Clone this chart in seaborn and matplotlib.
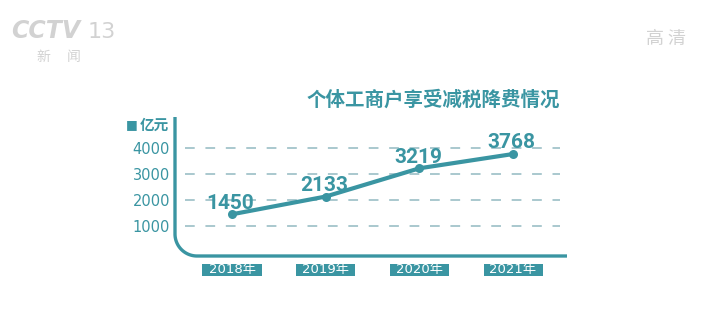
import matplotlib
matplotlib.use("Agg")
import matplotlib.pyplot as plt
from matplotlib.patches import Rectangle
import seaborn as sns
import numpy as np
import pandas as pd

years = ["2018", "2019", "2020", "2021"]
tick_labels = ["2018年", "2019年", "2020年", "2021年"]
values = [1450, 2133, 3219, 3768]
y_ticks = [1000, 2000, 3000, 4000]
title = "个体工商户享受减税降费情况"
unit = "亿元"

TEAL = "#3a95a2"
GRID = "#a9c8ce"
GRAY = "#d2d2d2"

sns.set_theme(style="white")
plt.rcParams['font.family'] = ['Noto Sans CJK SC', 'DejaVu Sans']

W, H = 715, 331
fig = plt.figure(figsize=(W / 100, H / 100), dpi=100)
fig.patch.set_facecolor("white")

# axes box in pixels (from top-left)
L, R, T, B = 175, 567, 117, 256
ax = fig.add_axes([L / W, 1 - B / H, (R - L) / W, (B - T) / H])
ax.set_facecolor("none")

df = pd.DataFrame({"idx": np.arange(len(years)), "value": values})
sns.lineplot(data=df, x="idx", y="value", ax=ax, color=TEAL, linewidth=3.0,
             marker="o", markersize=6.5, markeredgewidth=0, zorder=5)

ax.set_xlim(-0.6085, 3.576)
ax.set_ylim(-154, 5192)

# dashed grid lines
ax.hlines(y_ticks, -0.5, 3.5, colors=GRID, linewidth=1.4,
          linestyles=(0, (5, 5.5)), zorder=1)

for s in ax.spines.values():
    s.set_visible(False)

# rounded L-shaped axis
rx, ry = 22 / (R - L), 22 / (B - T)
th = np.linspace(np.pi, 1.5 * np.pi, 40)
xs = np.concatenate([[0, 0], rx + rx * np.cos(th), [1]])
ys = np.concatenate([[1, ry], ry + ry * np.sin(th), [0]])
ax.plot(xs, ys, transform=ax.transAxes, color=TEAL, lw=2.4,
        clip_on=False, solid_capstyle="butt", zorder=4)

ax.set_xlabel("")
ax.set_ylabel("")
ax.set_xticks([])
ax.set_yticks(y_ticks)
ax.set_yticklabels([str(v) for v in y_ticks], family="DejaVu Sans",
                   fontsize=10.5, color=TEAL)
ax.tick_params(axis="y", length=0, pad=3.5)

# x category boxes
trans = ax.get_xaxis_transform()
bw = 0.63
yb0 = (B - 264) / (B - T)
yb1 = (B - 275.5) / (B - T)
for i, lab in enumerate(tick_labels):
    ax.add_patch(Rectangle((i - bw / 2, yb1), bw, yb0 - yb1, transform=trans,
                           facecolor=TEAL, edgecolor="none", clip_on=False))
    ax.text(i, (yb0 + yb1) / 2, lab, transform=trans, ha="center",
            va="center", color="white", fontsize=9.5,
            family=["DejaVu Sans", "Noto Sans CJK SC"])

# value labels
for i, v in enumerate(values):
    ax.annotate(str(v), (i, v), xytext=(-1, 4), textcoords="offset points",
                ha="center", va="baseline", color=TEAL, fontsize=15,
                fontweight="bold", family=["Roboto", "DejaVu Sans"])

# title & unit
fig.text(433 / W, 1 - 100 / H, title, ha="center", va="center",
         color=TEAL, fontsize=14, fontweight="bold")
fig.text(126 / W, 1 - 125 / H, "■", ha="left", va="center", color=TEAL,
         fontsize=9, family="DejaVu Sans")
fig.text(140 / W, 1 - 125 / H, unit, ha="left", va="center", color=TEAL,
         fontsize=10.5, fontweight="bold")

# watermarks
fig.text(11 / W, 1 - 31 / H, "CCTV", ha="left", va="center", color=GRAY,
         fontsize=17, fontweight="bold", style="italic", family="DejaVu Sans")
fig.text(88 / W, 1 - 32 / H, "13", ha="left", va="center", color=GRAY,
         fontsize=16, family="DejaVu Sans")
fig.text(43 / W, 1 - 57 / H, "新", ha="center", va="center", color=GRAY,
         fontsize=10)
fig.text(74 / W, 1 - 57 / H, "闻", ha="center", va="center", color=GRAY,
         fontsize=10)
fig.text(666 / W, 1 - 39 / H, "高 清", ha="center", va="center", color=GRAY,
         fontsize=13)

fig.savefig("out.png", dpi=100, facecolor="white")
